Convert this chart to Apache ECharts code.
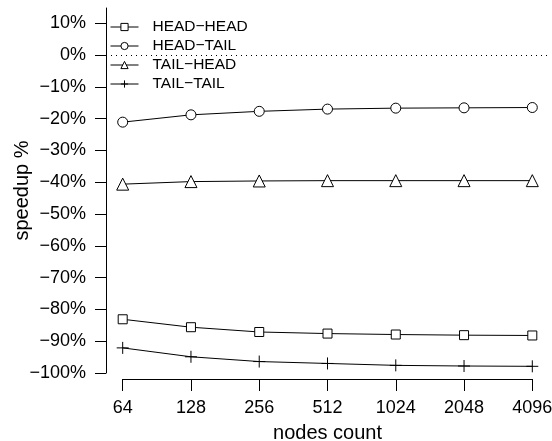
<!DOCTYPE html>
<html>
<head>
<meta charset="utf-8">
<script src="https://cdn.jsdelivr.net/npm/echarts@6/dist/echarts.min.js"></script>
<style>
  html, body { margin: 0; padding: 0; background: #fff; }
  #chart { width: 552px; height: 441px; }
</style>
</head>
<body>
<div id="chart"></div>
<script>
// Node counts on the x axis
const nodeCounts = ['64', '128', '256', '512', '1024', '2048', '4096'];

// Speedup (%) per configuration
const headHead = [-83.1, -85.6, -87.1, -87.6, -87.9, -88.1, -88.2];
const headTail = [-21.1, -18.8, -17.7, -17.0, -16.7, -16.6, -16.5];
const tailHead = [-40.6, -39.8, -39.6, -39.5, -39.5, -39.5, -39.5];
const tailTail = [-92.1, -94.9, -96.4, -97.0, -97.6, -97.8, -97.9];

const seriesNames = ['HEAD\u2212HEAD', 'HEAD\u2212TAIL', 'TAIL\u2212HEAD', 'TAIL\u2212TAIL'];

// Y tick positions
const yTicks = [-100, -90, -80, -70, -60, -50, -40, -30, -20, -10, 0, 10];

const FONT = '"Liberation Sans", Arial, Helvetica, sans-serif';
const Y_MIN = -100, Y_MAX = 14.8;

const fmtPct = v => (v < 0 ? '\u2212' + Math.abs(v) : String(v)) + '%';

const plusPath = 'path://M0,5L10,5M5,0L5,10';

function lineSeries(name, data, symbol, size) {
  return {
    name: name,
    type: 'line',
    xAxisIndex: 0,
    yAxisIndex: 0,
    data: data,
    symbol: symbol,
    symbolSize: size,
    showAllSymbol: true,
    lineStyle: { color: '#000', width: 1 },
    itemStyle: { color: '#fff', borderColor: '#000', borderWidth: 1 },
    emphasis: { disabled: true },
    z: 3
  };
}

const chart = echarts.init(document.getElementById('chart'), null, { renderer: 'canvas' });

chart.setOption({
  animation: false,
  backgroundColor: '#fff',
  textStyle: { fontFamily: FONT, color: '#000' },
  legend: {
    orient: 'vertical',
    left: 110,
    top: 19,
    padding: 0,
    itemWidth: 28,
    itemHeight: 9,
    itemGap: 3,
    selectedMode: false,
    data: seriesNames,
    itemStyle: { borderWidth: 1 },
    lineStyle: { width: 1 },
    textStyle: { fontFamily: FONT, fontSize: 15.5, color: '#000', padding: [0, 0, 0, 9] }
  },
  grid: [
    // data area, spanning the category ticks
    { left: 122.7, right: 19.7, top: 8, bottom: 68, containLabel: false, outerBoundsMode: 'none' },
    // full plot width, used for the zero reference line
    { left: 106, right: 5, top: 8, bottom: 68, containLabel: false, outerBoundsMode: 'none' }
  ],
  xAxis: [
    {
      type: 'category',
      gridIndex: 0,
      data: nodeCounts,
      boundaryGap: false,
      offset: 6,
      name: 'nodes count',
      nameLocation: 'middle',
      nameGap: 44,
      nameMoveOverlap: false,
      nameTextStyle: { fontFamily: FONT, fontSize: 20, color: '#000' },
      axisLine: { show: true, onZero: false, lineStyle: { color: '#000', width: 1 } },
      axisTick: { show: true, inside: false, length: 12, lineStyle: { color: '#000', width: 1 } },
      axisLabel: { fontFamily: FONT, fontSize: 18, color: '#000', margin: 20, interval: 0 },
      splitLine: { show: false }
    },
    {
      type: 'value',
      gridIndex: 1,
      min: 0,
      max: 1,
      show: false
    }
  ],
  yAxis: [
    {
      type: 'value',
      gridIndex: 0,
      min: Y_MIN,
      max: Y_MAX,
      offset: 16.7,
      name: 'speedup %',
      nameLocation: 'middle',
      nameGap: 74,
      nameMoveOverlap: false,
      nameTextStyle: { fontFamily: FONT, fontSize: 20, color: '#000' },
      axisLine: { show: true, onZero: false, lineStyle: { color: '#000', width: 1 } },
      axisTick: { show: true, length: 11, customValues: yTicks, lineStyle: { color: '#000', width: 1 } },
      axisLabel: { fontFamily: FONT, fontSize: 18, color: '#000', margin: 20, customValues: yTicks, formatter: fmtPct },
      splitLine: { show: false }
    },
    {
      type: 'value',
      gridIndex: 1,
      min: Y_MIN,
      max: Y_MAX,
      show: false
    }
  ],
  series: [
    lineSeries(seriesNames[0], headHead, 'rect', 9),
    lineSeries(seriesNames[1], headTail, 'circle', 10),
    lineSeries(seriesNames[2], tailHead, 'triangle', 12),
    lineSeries(seriesNames[3], tailTail, plusPath, 12),
    {
      name: 'zero',
      type: 'line',
      xAxisIndex: 1,
      yAxisIndex: 1,
      data: [],
      silent: true,
      z: 1,
      markLine: {
        silent: true,
        symbol: 'none',
        label: { show: false },
        lineStyle: { color: '#000', width: 1, type: [1, 4] },
        data: [{ yAxis: 0 }]
      }
    }
  ]
});
</script>
</body>
</html>
